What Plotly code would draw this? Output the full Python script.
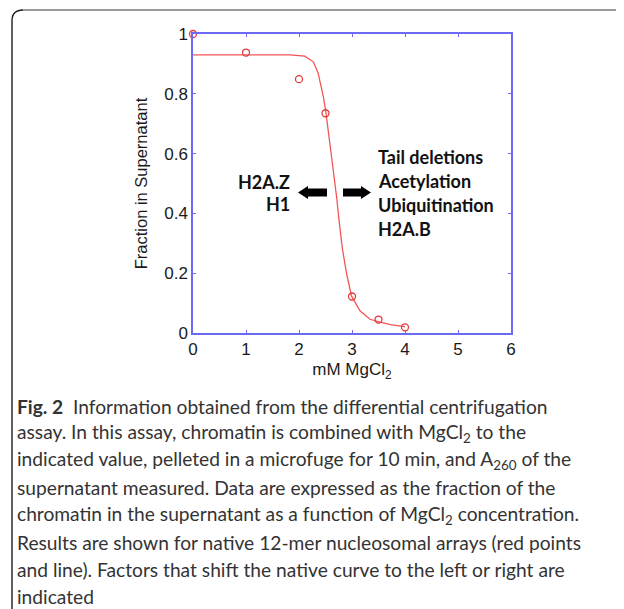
import plotly.graph_objects as go

# measured data points
mgcl2_mM = [0, 1, 2, 2.5, 3, 3.5, 4]
fraction_supernatant = [1.0, 0.938, 0.849, 0.735, 0.122, 0.045, 0.019]

# fitted curve
curve_x = [0, 1.0, 1.83, 2.11, 2.27, 2.36, 2.46, 2.51, 2.58, 2.64, 2.71, 2.76, 2.82, 2.90, 2.99, 3.15, 3.34, 3.51, 3.75, 4.0]
curve_y = [0.93, 0.93, 0.93, 0.926, 0.907, 0.87, 0.79, 0.735, 0.64, 0.55, 0.454, 0.37, 0.28, 0.197, 0.124, 0.074, 0.046, 0.037, 0.027, 0.021]

x_ticks = [0, 1, 2, 3, 4, 5, 6]
y_ticks = [0, 0.2, 0.4, 0.6, 0.8, 1]
y_tick_labels = ["0", "0.2", "0.4", "0.6", "0.8", "1"]

left_labels = ["H2A.Z", "H1"]
right_labels = ["Tail deletions", "Acetylation", "Ubiquitination", "H2A.B"]

caption_lines = [
    "<b>Fig. 2</b>  Information obtained from the differential centrifugation",
    "assay. In this assay, chromatin is combined with MgCl<sub>2</sub> to the",
    "indicated value, pelleted in a microfuge for 10 min, and A<sub>260</sub> of the",
    "supernatant measured. Data are expressed as the fraction of the",
    "chromatin in the supernatant as a function of MgCl<sub>2</sub> concentration.",
    "Results are shown for native 12-mer nucleosomal arrays (red points",
    "and line). Factors that shift the native curve to the left or right are",
    "indicated",
]

OFF = 8  # page body margin
W, H = 624 - OFF, 609 - OFF
# plot area in page pixels
PL, PR, PT, PB = 193, 511, 34, 333
L, R, T, B = PL - OFF, W - (PR - OFF), PT - OFF, H - (PB - OFF)
PW, PH = PR - PL, PB - PT

def px_x(p):
    return (p - PL) / PW

def px_y(p):
    return 1 - (p - PT) / PH

AX = "#6a6af2"
fig = go.Figure()
fig.add_trace(go.Scatter(x=curve_x, y=curve_y, mode="lines",
                         line=dict(color="#f25555", width=1.3), hoverinfo="skip"))
fig.add_trace(go.Scatter(x=mgcl2_mM, y=fraction_supernatant, mode="markers", cliponaxis=False,
                         marker=dict(symbol="circle-open", size=7, color="#e53a3a",
                                     line=dict(width=1.3, color="#e53a3a"))))

axis_common = dict(showgrid=False, zeroline=False, showline=True, linecolor=AX, linewidth=1.5,
                   mirror="allticks", ticks="inside", ticklen=3, tickcolor=AX, tickwidth=1,
                   tickfont=dict(family="Liberation Sans", size=17, color="#1a1a1a"))
fig.update_xaxes(range=[0, 6], tickvals=x_ticks, **axis_common,
                 title=dict(text="mM MgCl<sub>2</sub>", font=dict(family="Liberation Sans", size=17, color="#1a1a1a"), standoff=5))
fig.update_yaxes(range=[0, 1], tickvals=y_ticks, ticktext=y_tick_labels, **axis_common,
                 title=dict(text="Fraction in Supernatant", font=dict(family="Liberation Sans", size=16.5, color="#1a1a1a"), standoff=12))

ann_font = dict(family="Lato", size=18, color="#111111")
annotations = []
for i, t in enumerate(left_labels):
    annotations.append(dict(xref="paper", yref="paper", x=px_x(292), y=px_y(182 + 22 * i),
                            text="<b>%s</b>" % t, showarrow=False, xanchor="right", yanchor="middle", font=ann_font))
for i, t in enumerate(right_labels):
    annotations.append(dict(xref="paper", yref="paper", x=px_x(376), y=px_y(157 + 24 * i),
                            text="<b>%s</b>" % t, showarrow=False, xanchor="left", yanchor="middle", font=ann_font))
cap_font = dict(family="Lato", size=19.2, color="#333333")
for i, t in enumerate(caption_lines):
    annotations.append(dict(xref="paper", yref="paper", x=px_x(15), y=px_y(406 + 27.2 * i),
                            text=t, showarrow=False, xanchor="left", yanchor="middle", font=cap_font))
fig.update_layout(annotations=annotations)

# arrows (filled shapes, paper coords from pixel positions)
def arrow_path(tail, tip, yc, body=4, head=6.5, headlen=10):
    d = 1 if tip > tail else -1
    base = tip - d * headlen
    pts = [(tail, yc - body), (base, yc - body), (base, yc - head), (tip, yc),
           (base, yc + head), (base, yc + body), (tail, yc + body)]
    return "M " + " L ".join("%f,%f" % (px_x(a), px_y(b)) for a, b in pts) + " Z"

shapes = [
    dict(type="path", xref="paper", yref="paper", path=arrow_path(327, 298, 192.5),
         fillcolor="black", line=dict(width=0)),
    dict(type="path", xref="paper", yref="paper", path=arrow_path(343, 371, 192.5),
         fillcolor="black", line=dict(width=0)),
    # figure frame
    dict(type="path", xref="paper", yref="paper",
         path="M %f,%f L %f,%f Q %f,%f %f,%f" % (px_x(12), px_y(612), px_x(12), px_y(21),
                                                 px_x(12), px_y(10), px_x(23), px_y(10)),
         line=dict(color="#1e1e1e", width=1.4)),
    dict(type="line", xref="paper", yref="paper", x0=px_x(23), y0=px_y(10), x1=px_x(630), y1=px_y(10),
         line=dict(color="#7a7a7a", width=1.6)),
]
fig.update_layout(shapes=shapes)

fig.update_layout(width=W, height=H, margin=dict(l=L, r=R, t=T, b=B, autoexpand=False),
                  paper_bgcolor="white", plot_bgcolor="white", showlegend=False)
fig.write_html("out.html")
